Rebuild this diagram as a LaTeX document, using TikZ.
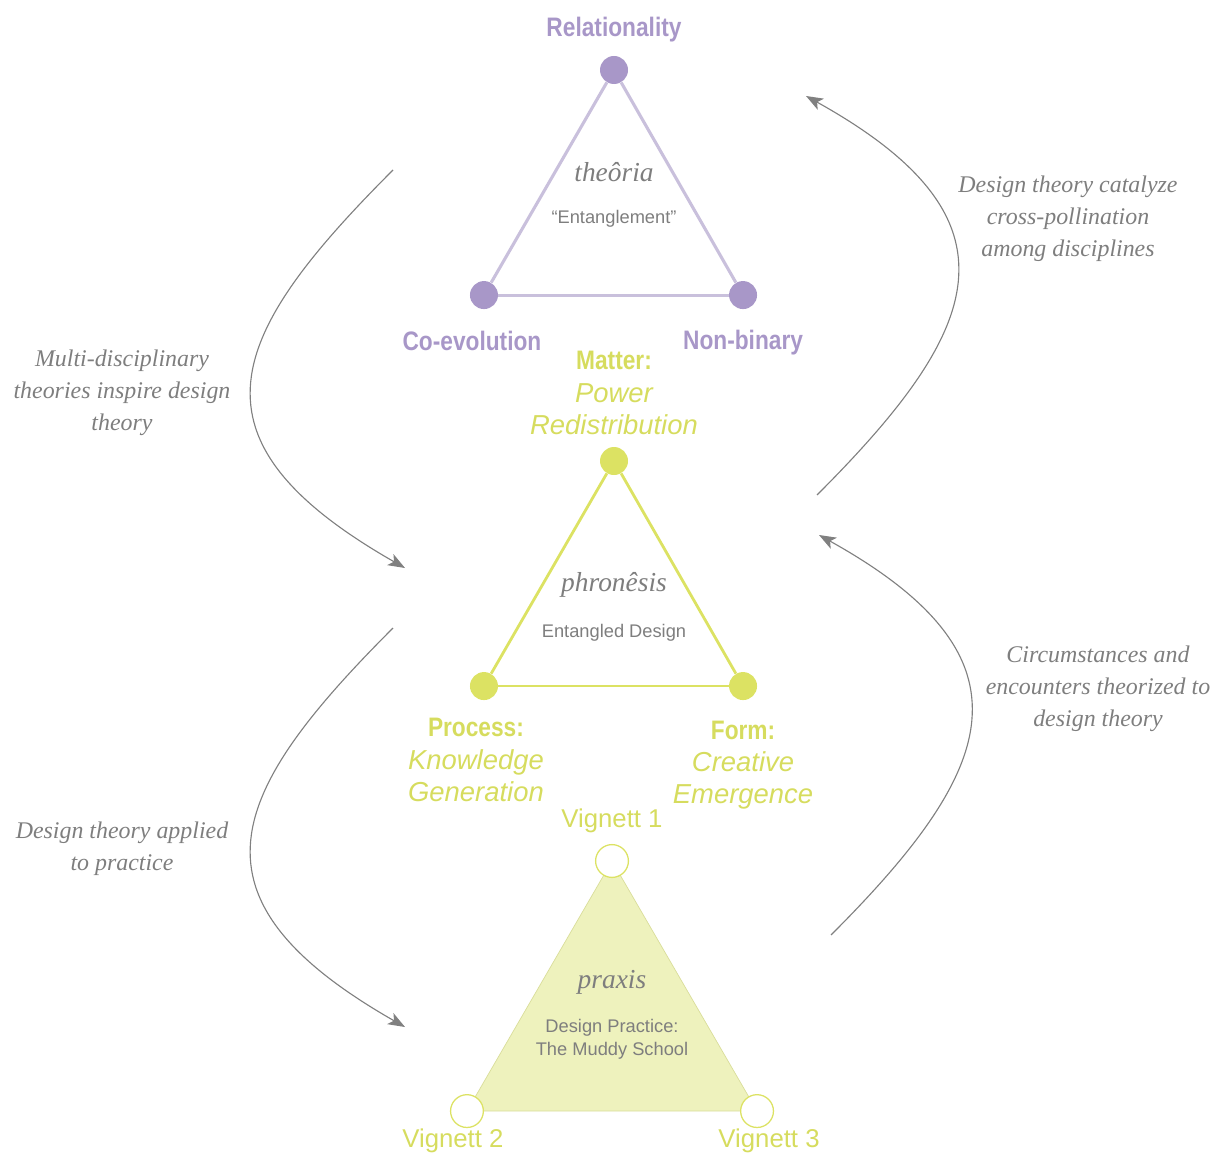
\documentclass[tikz,border=0pt]{standalone}
\usepackage{fontspec}
\setsansfont{Liberation Sans}
\newfontfamily\condfont[FakeStretch=0.85]{Liberation Sans}
\newfontfamily\notefont{Liberation Serif}
\usetikzlibrary{arrows.meta, positioning, backgrounds}

\definecolor{relpurple}{HTML}{A897C8}
\definecolor{relline}{HTML}{C9C0DC}
\definecolor{phryellow}{HTML}{DCE263}
\definecolor{phrtext}{HTML}{D6DC5E}
\definecolor{praxfill}{HTML}{EEF2BD}
\definecolor{praxline}{HTML}{D9DD9A}
\definecolor{txtgrey}{HTML}{7E7E7E}
\definecolor{arrgrey}{HTML}{808080}

\begin{document}
\begin{tikzpicture}[x=0.025cm, y=-0.025cm, on grid, auto,
	dot/.style={circle, inner sep=0pt, minimum size=0.7cm},
	reldot/.style={dot, fill=relpurple},
	phrdot/.style={dot, fill=phryellow},
	vigdot/.style={circle, inner sep=0pt, minimum size=0.82cm, fill=white, draw=phryellow, line width=0.9pt},
	hdlbl/.style={font=\condfont\bfseries\fontsize{19}{23}\selectfont, inner sep=0pt},
	sflbl/.style={font=\sffamily\fontsize{19.5}{23}\selectfont, inner sep=0pt, align=center},
	viglbl/.style={text=phrtext, font=\sffamily\fontsize{18.3}{23}\selectfont, inner sep=0pt},
	greek/.style={text=txtgrey, font=\notefont\itshape\fontsize{19.5}{23}\selectfont, inner sep=0pt},
	sub/.style={text=txtgrey, font=\sffamily\fontsize{13}{16}\selectfont, inner sep=0pt, align=center},
	note/.style={text=txtgrey, font=\notefont\itshape\fontsize{17}{22.7}\selectfont, inner sep=0pt, align=center},
	flow/.style={draw=arrgrey, line width=0.8pt, -{Stealth[length=12pt, width=9pt, inset=3pt]}}]
	\useasboundingbox (0,0) rectangle (1220,1155);
	
	% theoria
	\node[reldot] (rel) at (614,70) {};
	\node[reldot, below left = 5.625cm and 3.25cm of rel] (coevo) {};
	\node[reldot, right = 6.475cm of coevo] (nonbin) {};
	\path[draw=relline, line width=2.2pt] (rel) edge (coevo)
		(coevo) edge (nonbin)
		(nonbin) edge (rel);
	\node[hdlbl, text=relpurple, above = 1cm of rel] (rellbl) {Relationality};
	\node[hdlbl, text=relpurple, below left = 1.15cm and 0.3cm of coevo] (coevolbl) {Co-evolution};
	\node[hdlbl, text=relpurple, below = 1.2cm of nonbin] (nonbinlbl) {Non-binary};
	\node[greek, below = 2.55cm of rel] (theoria) {theôria};
	\node[sub, below = 1.175cm of theoria] (entangle) {“Entanglement”};
	
	% phronesis
	\node[phrdot] (matter) at (614,461) {};
	\node[phrdot, below left = 5.625cm and 3.25cm of matter] (process) {};
	\node[phrdot, right = 6.475cm of process] (form) {};
	\path[draw=phryellow, line width=2pt] (matter) edge (process)
		(process) edge (form)
		(form) edge (matter);
	\node[sflbl, text=phrtext, above = 1.7cm of matter] (matterlbl) {{\condfont\bfseries\fontsize{19}{23}\selectfont Matter:}\\{\itshape Power}\\{\itshape Redistribution}};
	\node[sflbl, text=phrtext, below left = 1.85cm and 0.2cm of process] (processlbl) {{\condfont\bfseries\fontsize{19}{23}\selectfont Process:}\\{\itshape Knowledge}\\{\itshape Generation}};
	\node[sflbl, text=phrtext, below = 1.975cm of form] (formlbl) {{\condfont\bfseries\fontsize{19}{23}\selectfont Form:}\\{\itshape Creative}\\{\itshape Emergence}};
	\node[greek, below = 3.1cm of matter] (phronesis) {phronêsis};
	\node[sub, below = 1.2cm of phronesis] (entdesign) {Entangled Design};
	
	% praxis
	\node[vigdot] (vig1) at (612,861) {};
	\node[vigdot, below left = 6.25cm and 3.625cm of vig1] (vig2) {};
	\node[vigdot, right = 7.25cm of vig2] (vig3) {};
	\begin{scope}[on background layer]
		\filldraw[fill=praxfill, draw=praxline, line width=0.5pt] (vig1.center) -- (vig2.center) -- (vig3.center) -- cycle;
	\end{scope}
	\node[viglbl, above = 1cm of vig1] (vig1lbl) {Vignett 1};
	\node[viglbl, below left = 0.75cm and 0.35cm of vig2] (vig2lbl) {Vignett 2};
	\node[viglbl, below right = 0.75cm and 0.3cm of vig3] (vig3lbl) {Vignett 3};
	\node[greek, below = 3.025cm of vig1] (praxis) {praxis};
	\node[sub, below = 1.425cm of praxis] (muddy) {Design Practice:\\The Muddy School};
	
	% flows between levels
	\coordinate (inspireS) at (393,170);
	\coordinate (inspireE) at (405,568);
	\coordinate (appliedS) at (393,628);
	\coordinate (appliedE) at (405,1027);
	\coordinate (catalyzeS) at (817,495);
	\coordinate (catalyzeE) at (806,96);
	\coordinate (theorizeS) at (831,935);
	\coordinate (theorizeE) at (819,535);
	\draw[flow] (inspireS) .. controls +(-166,166) and +(-226,-129) .. (inspireE);
	\draw[flow] (appliedS) .. controls +(-166,166) and +(-226,-129) .. (appliedE);
	\draw[flow] (catalyzeS) .. controls +(165,-165) and +(223,124) .. (catalyzeE);
	\draw[flow] (theorizeS) .. controls +(165,-165) and +(223,124) .. (theorizeE);
	
	\node[note] (inspirelbl) at (122,393) {Multi-disciplinary\\theories inspire design\\theory};
	\node[note] (appliedlbl) at (122,849) {Design theory applied\\to practice};
	\node[note] (catalyzelbl) at (1068,219) {Design theory catalyze\\cross-pollination\\among disciplines};
	\node[note] (theorizelbl) at (1098,689) {Circumstances and\\encounters theorized to\\design theory};
\end{tikzpicture}
\end{document}
